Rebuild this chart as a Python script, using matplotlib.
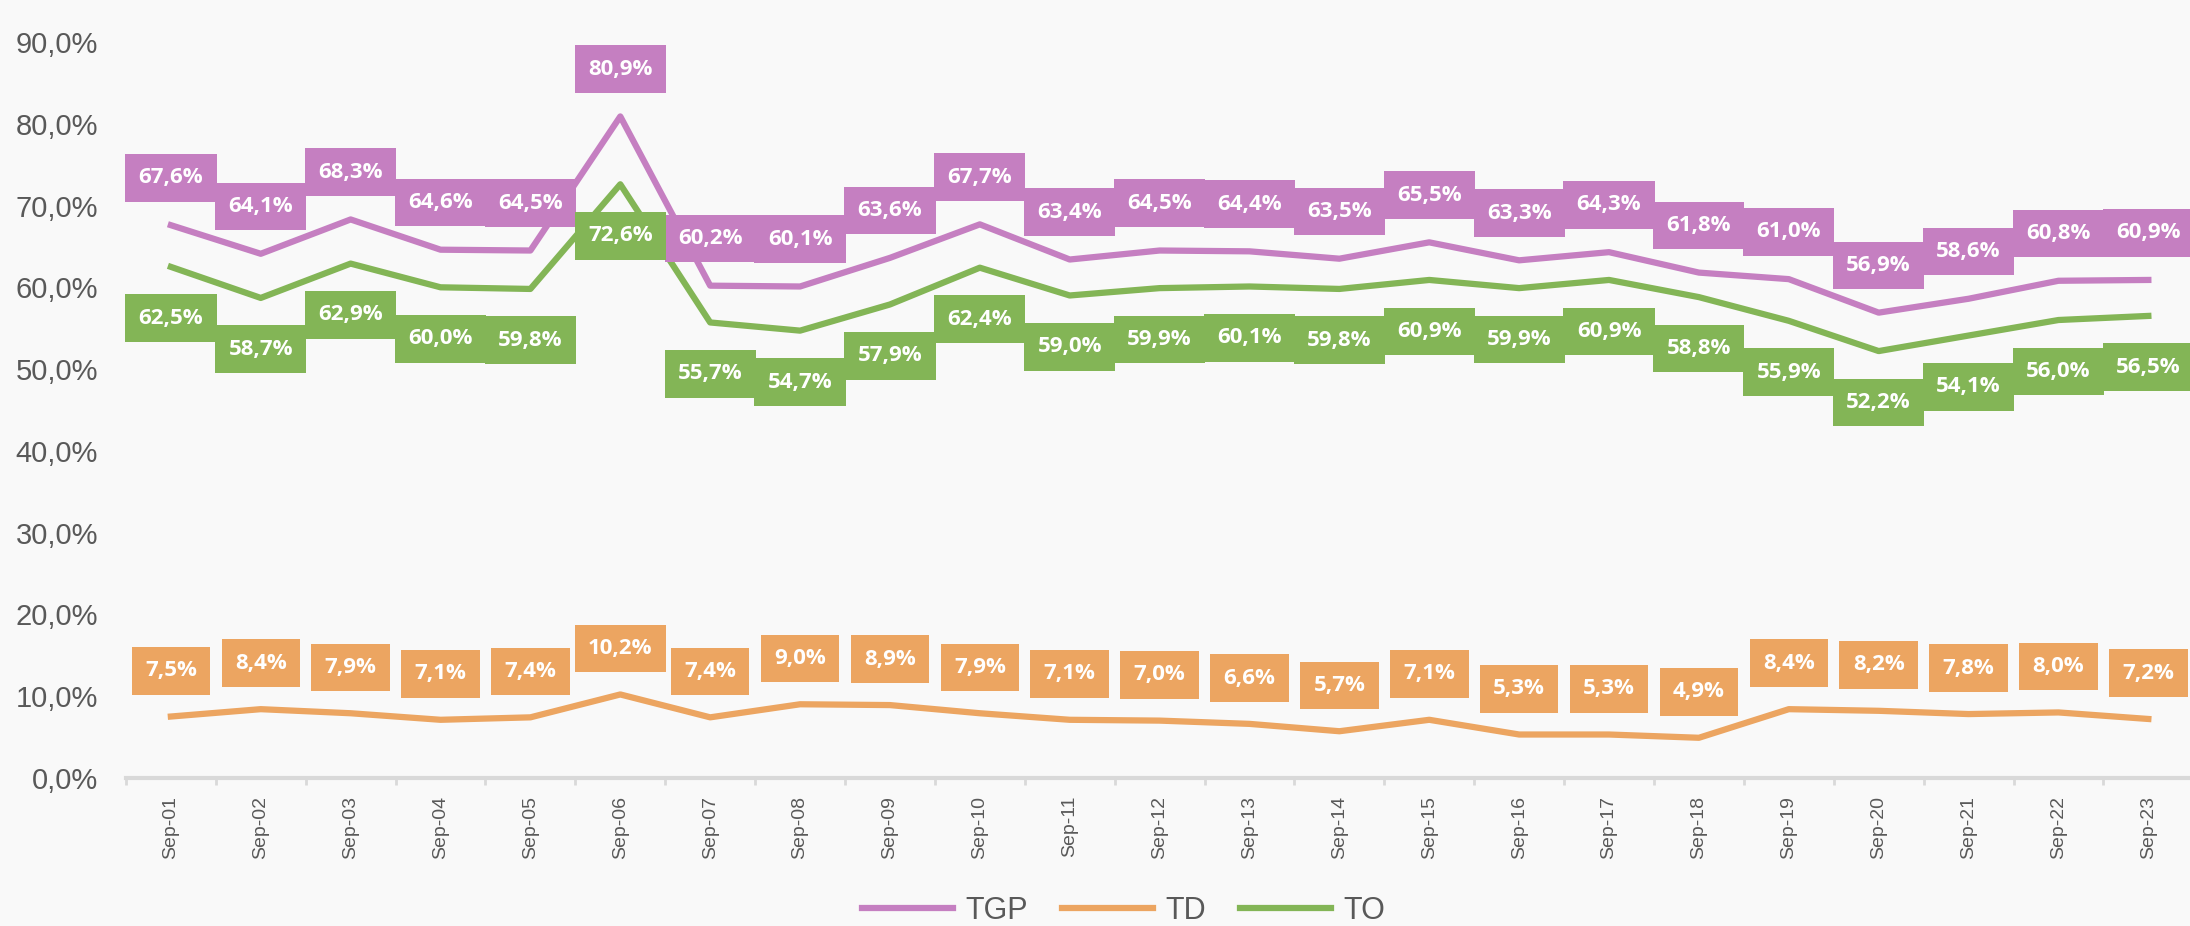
import matplotlib
matplotlib.use("Agg")
import matplotlib.pyplot as plt
import numpy as np

plt.rcParams['font.family'] = ['Liberation Sans', 'DejaVu Sans']

days = ['Sep-01', 'Sep-02', 'Sep-03', 'Sep-04', 'Sep-05', 'Sep-06', 'Sep-07', 'Sep-08',
        'Sep-09', 'Sep-10', 'Sep-11', 'Sep-12', 'Sep-13', 'Sep-14', 'Sep-15', 'Sep-16',
        'Sep-17', 'Sep-18', 'Sep-19', 'Sep-20', 'Sep-21', 'Sep-22', 'Sep-23']
tgp = [67.6, 64.1, 68.3, 64.6, 64.5, 80.9, 60.2, 60.1, 63.6, 67.7, 63.4, 64.5,
       64.4, 63.5, 65.5, 63.3, 64.3, 61.8, 61.0, 56.9, 58.6, 60.8, 60.9]
td = [7.5, 8.4, 7.9, 7.1, 7.4, 10.2, 7.4, 9.0, 8.9, 7.9, 7.1, 7.0,
      6.6, 5.7, 7.1, 5.3, 5.3, 4.9, 8.4, 8.2, 7.8, 8.0, 7.2]
to = [62.5, 58.7, 62.9, 60.0, 59.8, 72.6, 55.7, 54.7, 57.9, 62.4, 59.0, 59.9,
      60.1, 59.8, 60.9, 59.9, 60.9, 58.8, 55.9, 52.2, 54.1, 56.0, 56.5]
yticks = [0, 10, 20, 30, 40, 50, 60, 70, 80, 90]

purple = '#c57fc1'
orange = '#eca561'
green = '#83b556'
bg = '#f9f9f9'
grey = '#595959'

def pct(v):
    return f"{v:.1f}%".replace('.', ',')

fig = plt.figure(figsize=(21.9, 9.26), dpi=100)
fig.patch.set_facecolor(bg)
ax = fig.add_axes([0.0575, 0.16, 0.944, 0.7946])
ax.set_facecolor(bg)

x = np.arange(len(days))
l1, = ax.plot(x, tgp, color=purple, lw=4.5, label='TGP', zorder=3)
l2, = ax.plot(x, td, color=orange, lw=4.5, label='TD', zorder=3)
l3, = ax.plot(x, to, color=green, lw=4.5, label='TO', zorder=3)

# data labels: TGP and TD above, TO below
for series, col, off in [(tgp, purple, 34), (td, orange, 33), (to, green, -37)]:
    for xi, v in zip(x, series):
        ax.annotate(pct(v), (xi, v), xytext=(0, off), textcoords='offset points',
                    ha='center', va='center', color='white', fontsize=16,
                    fontweight='bold', family='Open Sans',
                    bbox=dict(boxstyle='square,pad=0.6', fc=col, ec='none'),
                    zorder=5, annotation_clip=False)

ax.set_xlim(-0.5, len(days) - 0.5)
ax.set_ylim(0, 90)
ax.set_yticks(yticks)
ax.set_yticklabels([pct(t) for t in yticks])
ax.set_xticks(x)
ax.set_xticklabels(days, rotation=90)
ax.set_xticks(np.arange(-0.5, len(days)), minor=True)

ax.tick_params(axis='y', length=0, pad=20, labelsize=21, labelcolor=grey)
ax.tick_params(axis='x', which='major', length=0, pad=13, labelsize=14, labelcolor=grey)
ax.tick_params(axis='x', which='minor', length=5, width=2, color='#d9d9d9')

for s in ['top', 'right', 'left']:
    ax.spines[s].set_visible(False)
ax.spines['bottom'].set_color('#d9d9d9')
ax.spines['bottom'].set_linewidth(3)

leg = fig.legend(handles=[l1, l2, l3], loc='center', bbox_to_anchor=(0.513, 0.016),
                 ncol=3, frameon=False, fontsize=22, handlelength=3,
                 handletextpad=0.4, columnspacing=1.1)
for t in leg.get_texts():
    t.set_color(grey)

fig.savefig('out.png', dpi=100, facecolor=bg)
